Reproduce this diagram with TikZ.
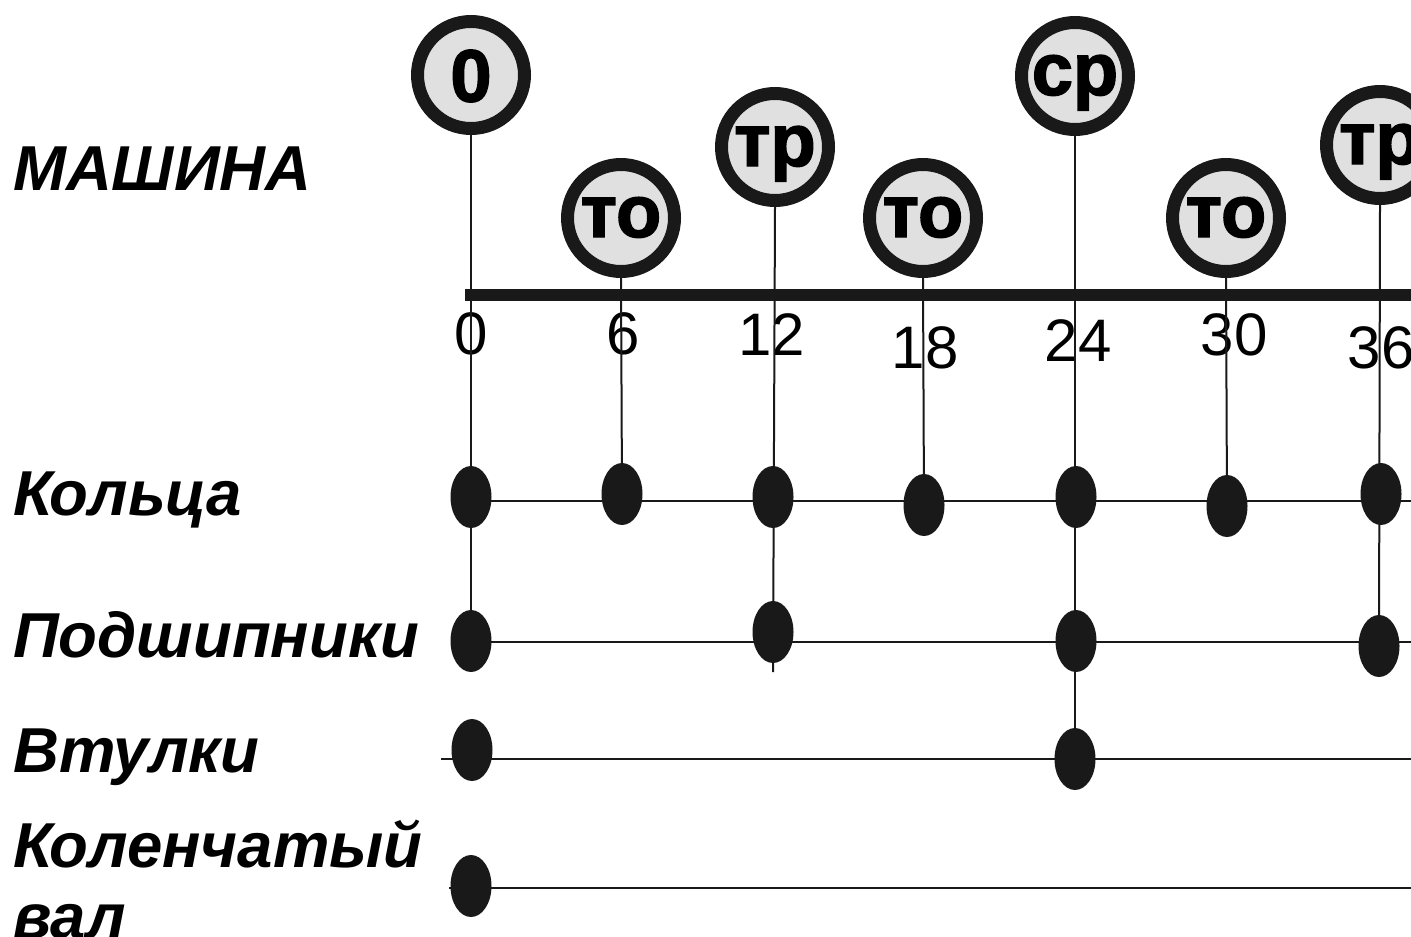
\documentclass[tikz,border=0pt]{standalone}
\usepackage{fontspec}
\setmainfont{Liberation Sans}
\usetikzlibrary{shapes.geometric}
\definecolor{cfill}{gray}{0.88}
\definecolor{ink}{gray}{0.1}
\newfontfamily\heavyfont[FakeBold=2]{Liberation Sans Bold}
\begin{document}
\begin{tikzpicture}[x=1pt,y=-1pt,
  mcirc/.style={circle,draw=ink,line width=13pt,fill=cfill,minimum size=107pt,inner sep=0pt,
    text height=38pt,text depth=0pt,
    font=\fontsize{74}{74}\heavyfont},
  digit/.style={text height=53pt},
  dotnode/.style={ellipse,fill=ink,draw=none,minimum width=41pt,minimum height=62pt,inner sep=0pt},
  thin/.style={draw=ink,line width=2pt},
  thick/.style={draw=ink,line width=12pt},
  ticklab/.style={inner sep=0pt,font=\fontsize{60}{60}\selectfont},
  rowlab/.style={anchor=base west,inner sep=0pt,font=\fontsize{63.5}{63.5}\selectfont\bfseries\itshape}
]
\useasboundingbox (0,0) rectangle (1411,937);
\fill[white] (0,0) rectangle (1411,937);

% row labels
\node[rowlab] (lm) at (13,190) {МАШИНА};
\node[rowlab] (lk) at (13,515) {Кольца};
\node[rowlab] (lp) at (13,657) {Подшипники};
\node[rowlab] (lv) at (13,772) {Втулки};
\node[rowlab] (lc) at (13,867) {Коленчатый};
\node[rowlab] (lc2) at (13,938) {вал};

% timeline
\coordinate (tl) at (465,295);
\coordinate (tr) at (1411,295);
\draw[thick] (tl) -- (tr);

% tick labels
\node[ticklab] (n0) at (471,334) {0};
\node[ticklab] (n6) at (623,334) {6};
\node[ticklab] (n12) at (772,335) {12};
\node[ticklab] (n18) at (925,348) {18};
\node[ticklab] (n24) at (1078,341) {24};
\node[ticklab] (n30) at (1234,335) {30};
\node[ticklab] (n36) at (1381,348) {36};

% horizontal row lines
\coordinate (kL) at (471,501);  \coordinate (kR) at (1411,501);
\coordinate (pL) at (471,642);  \coordinate (pR) at (1411,642);
\coordinate (vL) at (441,759);  \coordinate (vR) at (1411,759);
\coordinate (cL) at (449,888);  \coordinate (cR) at (1411,888);
\draw[thin] (kL) -- (kR);
\draw[thin] (pL) -- (pR);
\draw[thin] (vL) -- (vR);
\draw[thin] (cL) -- (cR);

% circles
\node[mcirc,digit] (c0) at (471,75) {0};
\node[mcirc] (c6) at (621,218) {то};
\node[mcirc] (c12) at (775,147) {тр};
\node[mcirc] (c18) at (923,218) {то};
\node[mcirc] (c24) at (1075,76) {ср};
\node[mcirc] (c30) at (1226,218) {то};
\node[mcirc] (c36) at (1380,145) {тр};

% dots
\node[dotnode] (k0) at (471,497) {};
\node[dotnode] (k6) at (622,494) {};
\node[dotnode] (k12) at (773,497) {};
\node[dotnode] (k18) at (924,505) {};
\node[dotnode] (k24) at (1076,497) {};
\node[dotnode] (k30) at (1227,506) {};
\node[dotnode] (k36) at (1381,494) {};
\node[dotnode] (p0) at (471,641) {};
\node[dotnode] (p12) at (773,632) {};
\node[dotnode] (p24) at (1076,641) {};
\node[dotnode] (p36) at (1379,646) {};
\node[dotnode] (v0) at (472,750) {};
\node[dotnode] (v24) at (1075,759) {};
\node[dotnode] (w0) at (471,886) {};

% vertical connectors
\coordinate (t12) at (773,672);
\draw[thin] (c0.south) -- (p0.center);
\draw[thin] (c6.south) -- (k6.center);
\draw[thin] (c12.south) -- (t12);
\draw[thin] (c18.south) -- (k18.center);
\draw[thin] (c24.south) -- (v24.center);
\draw[thin] (c30.south) -- (k30.center);
\draw[thin] (c36.south) -- (p36.center);
\end{tikzpicture}
\end{document}
